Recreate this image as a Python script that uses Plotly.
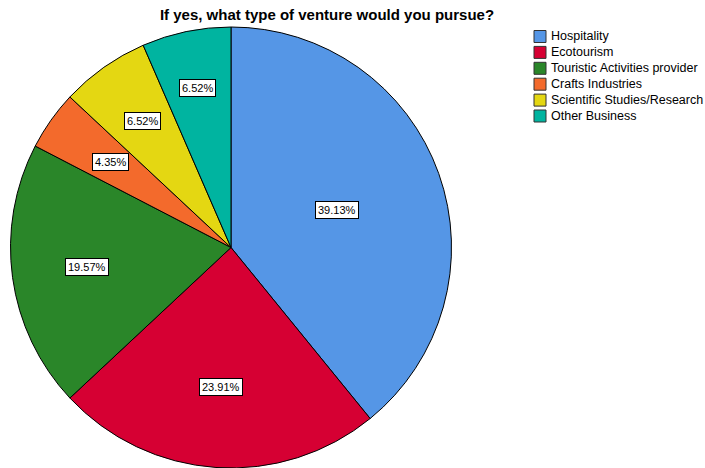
import math
import plotly.graph_objects as go

categories = ["Hospitality", "Ecotourism", "Touristic Activities provider",
              "Crafts Industries", "Scientific Studies/Research", "Other Business"]
percents = [39.13, 23.91, 19.57, 4.35, 6.52, 6.52]
colors = ["#5596E6", "#D60033", "#2A8629", "#F36A2C", "#E4D712", "#00B4A0"]
label_radius = [0.51, 0.635, 0.66, 0.67, 0.70, 0.74]

W, H = 705, 468
FONT = "Liberation Sans, Arial"
# pie domain in pixels
px0, px1 = 10, 452
py_top, py_bot = 27, 468
dom_x = [px0 / W, px1 / W]
dom_y = [(H - py_bot) / H, (H - py_top) / H]

fig = go.Figure()
fig.add_trace(go.Pie(
    labels=categories, values=percents, sort=False, direction="clockwise",
    marker=dict(colors=colors, line=dict(color="#000000", width=1)),
    textinfo="none", hoverinfo="label+percent",
    domain=dict(x=dom_x, y=dom_y), showlegend=False,
))

cx = (px0 + px1) / 2
cy = (py_top + py_bot) / 2
R = min(px1 - px0, py_bot - py_top) / 2
total = sum(percents)
cum = 0.0
annotations = []
shapes = []
for p, rf in zip(percents, label_radius):
    mid = (cum + p / 2) / total * 2 * math.pi
    cum += p
    x = cx + rf * R * math.sin(mid)
    y = cy - rf * R * math.cos(mid)
    annotations.append(dict(
        x=x / W, y=1 - y / H, xref="paper", yref="paper",
        xanchor="center", yanchor="middle",
        text=f"{p:.2f}%", showarrow=False,
        font=dict(family=FONT, size=11, color="#000000"),
        bgcolor="#FFFFFF", bordercolor="#000000", borderwidth=1, borderpad=2,
    ))

# manual legend (tight spacing like the original)
lx, ly0, dy, box = 534, 36.5, 15.9, 12
for i, (name, col) in enumerate(zip(categories, colors)):
    yc = ly0 + i * dy
    shapes.append(dict(
        type="rect", xref="paper", yref="paper",
        x0=lx / W, x1=(lx + box) / W,
        y0=1 - (yc - box / 2) / H, y1=1 - (yc + box / 2) / H,
        fillcolor=col, line=dict(color="#333333", width=1),
    ))
    annotations.append(dict(
        x=(lx + box + 3) / W, y=1 - yc / H, xref="paper", yref="paper",
        xanchor="left", yanchor="middle", text=name, showarrow=False,
        font=dict(family=FONT, size=12.5, color="#000000"),
    ))

fig.update_layout(
    width=W, height=H,
    margin=dict(l=0, r=0, t=0, b=0, autoexpand=False),
    paper_bgcolor="#FFFFFF", plot_bgcolor="#FFFFFF",
    title=dict(text="<b>If yes, what type of venture would you pursue?</b>",
               x=327 / W, xanchor="center", y=1 - 15 / H, yanchor="middle",
               font=dict(family=FONT, size=15, color="#000000")),
    annotations=annotations,
    shapes=shapes,
    showlegend=False,
)

fig.write_html("out.html")
